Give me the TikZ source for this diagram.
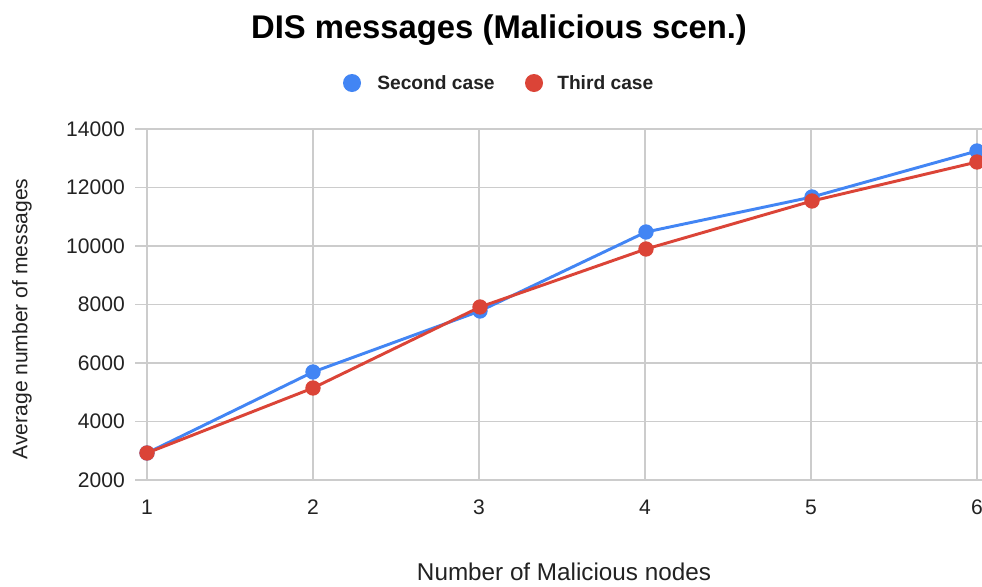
\documentclass[tikz,border=0pt]{standalone}
\usepackage{fontspec}
\setmainfont{Liberation Sans}
\definecolor{seriesblue}{HTML}{4285F4}
\definecolor{seriesred}{HTML}{DB4437}
\definecolor{gridgray}{HTML}{CCCCCC}
\definecolor{labelgray}{HTML}{222222}
\begin{document}
\begin{tikzpicture}[x=0.75pt,y=-0.75pt,
  gridline/.style={draw=gridgray,line width=1.3pt},
  ticklbl/.style={text=labelgray,font=\fontsize{15.8}{18}\selectfont,inner sep=0pt},
  bluedot/.style={circle,fill=seriesblue,minimum size=11.5pt,inner sep=0pt},
  reddot/.style={circle,fill=seriesred,minimum size=11.5pt,inner sep=0pt},
  blueline/.style={draw=seriesblue,line width=2.2pt},
  redline/.style={draw=seriesred,line width=2.2pt},
  legdot/.style={circle,minimum size=13.5pt,inner sep=0pt}]
\useasboundingbox (0,0) rectangle (982,586);
\clip (0,0) rectangle (982,586);
\fill[white] (0,0) rectangle (982,586);

% title and legend
\node[font=\fontsize{24.6}{29}\bfseries\selectfont] (title) at (499,30) {DIS messages (Malicious scen.)};
\node[legdot,fill=seriesblue] (legb) at (352,83) {};
\node[anchor=west,font=\fontsize{14.4}{17}\bfseries\selectfont,text=labelgray,inner sep=0pt] (legbt) at (377,83) {Second case};
\node[legdot,fill=seriesred] (legr) at (534,83) {};
\node[anchor=west,font=\fontsize{14.4}{17}\bfseries\selectfont,text=labelgray,inner sep=0pt] (legrt) at (557,83) {Third case};

% horizontal grid and y tick labels (2000 .. 14000)
\foreach \v [count=\i from 0] in {2000,4000,6000,8000,10000,12000,14000} {
  \pgfmathsetmacro{\yy}{480-\i*58.5}
  \draw[gridline] (135,\yy) -- (982,\yy);
  \node[ticklbl,anchor=east] (ytick\i) at (125,\yy) {\v};
}
% vertical grid and x tick labels (1 .. 6)
\foreach \n in {1,...,6} {
  \pgfmathsetmacro{\xx}{147+(\n-1)*166}
  \draw[gridline] (\xx,129) -- (\xx,481);
  \node[ticklbl] (xtick\n) at (\xx,507) {\n};
}

% axis titles
\node[text=labelgray,font=\fontsize{18.2}{21}\selectfont] (xtitle) at (564,572) {Number of Malicious nodes};
\node[text=labelgray,font=\fontsize{15.8}{19}\selectfont,rotate=90] (ytitle) at (22,319) {Average number of messages};

% data points (x = nodes, y = messages)
\coordinate (b1) at (147,453);
\coordinate (b2) at (313,372);
\coordinate (b3) at (480,311);
\coordinate (b4) at (646,232);
\coordinate (b5) at (812,197);
\coordinate (b6) at (977,151);
\coordinate (r1) at (147,453);
\coordinate (r2) at (313,388);
\coordinate (r3) at (480,307);
\coordinate (r4) at (646,249);
\coordinate (r5) at (812,201);
\coordinate (r6) at (977,162);

% second case
\draw[blueline,line join=round] (b1) -- (b2) -- (b3) -- (b4) -- (b5) -- (b6);
\foreach \k in {1,...,6} \node[bluedot] (bd\k) at (b\k) {};
% third case
\draw[redline,line join=round] (r1) -- (r2) -- (r3) -- (r4) -- (r5) -- (r6);
\foreach \k in {1,...,6} \node[reddot] (rd\k) at (r\k) {};
\end{tikzpicture}
\end{document}
